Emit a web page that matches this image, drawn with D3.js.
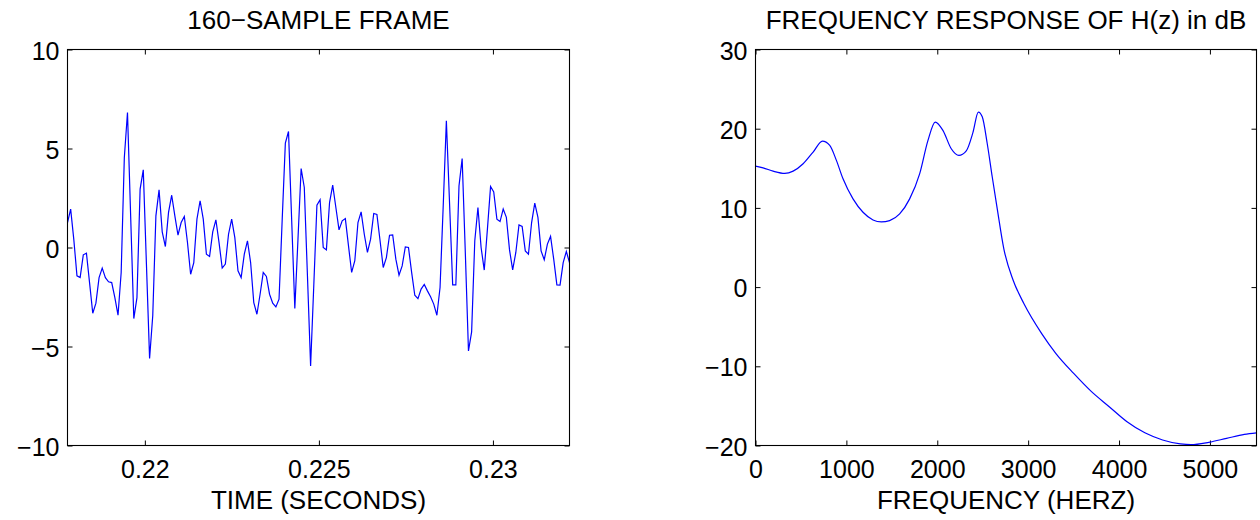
<!DOCTYPE html>
<html>
<head>
<meta charset="utf-8">
<script src="https://cdn.jsdelivr.net/npm/d3@7"></script>
<style>
  html, body { margin: 0; padding: 0; background: #fff; }
  svg { display: block; }
  text { font-family: "Liberation Sans", Arial, Helvetica, sans-serif; fill: #000; }
</style>
</head>
<body>
<svg id="chart" width="1260" height="520"></svg>
<script>
// ---- speech frame: 160 samples at 11025 Hz, starting at sample 2401 ----
const sampleRate = 11025;
const frameStart = 2401;
const frameSamples = [
  1.26, 1.94, 0.40, -1.43, -1.52, -0.37, -0.29, -1.80, -3.32, -2.81,
  -1.52, -1.04, -1.52, -1.73, -1.77, -2.53, -3.42, -1.26, 4.55, 6.82,
  1.60, -3.59, -2.53, 2.95, 3.92, -0.84, -5.60, -3.45, 1.60, 2.91,
  0.79, 0.05, 1.77, 2.64, 1.60, 0.62, 1.26, 1.57, 0.25, -1.35,
  -0.76, 1.43, 2.36, 1.43, -0.34, -0.45, 0.79, 1.40, 0.25, -1.04,
  -0.84, 0.67, 1.43, 0.50, -1.18, -1.52, -0.34, 0.34, -0.76, -2.78,
  -3.37, -2.36, -1.26, -1.46, -2.36, -2.81, -3.00, -2.61, 1.40, 5.27,
  5.86, 1.40, -3.08, 0.42, 3.99, 3.03, -1.43, -5.98, -1.94, 2.14,
  2.41, 0.00, -0.12, 2.27, 3.15, 2.02, 0.89, 1.35, 1.46, 0.08,
  -1.26, -0.67, 1.26, 1.80, 0.67, -0.25, 0.42, 1.72, 1.67, 0.34,
  -1.01, -0.51, 0.62, 0.64, -0.59, -1.40, -0.93, 0.03, 0.00, -1.26,
  -2.41, -2.58, -2.10, -1.87, -2.19, -2.49, -2.86, -3.42, -2.02, 2.10,
  6.40, 2.27, -1.89, -1.89, 3.11, 4.49, -0.25, -5.22, -4.26, 0.34,
  2.02, 0.00, -1.14, 0.93, 3.08, 2.81, 1.43, 1.31, 1.94, 1.52,
  -0.12, -1.13, -0.25, 1.14, 1.06, -0.17, -0.34, 1.26, 2.24, 1.52,
  -0.17, -0.62, 0.17, 0.56, -0.59, -1.89, -1.90, -0.76, -0.20, -0.76
];
const timeTicks = [0.22, 0.225, 0.23];
const ampTicks = [-10, -5, 0, 5, 10];

// ---- LPC model spectrum |H(f)| in dB ----
const respFreq = [
  0, 84, 194, 322, 414, 524, 634, 736, 817, 890,
  963, 1073, 1183, 1293, 1385, 1476, 1586, 1696, 1806, 1897,
  1978, 2062, 2154, 2238, 2319, 2392, 2452, 2495, 2550, 2605,
  2660, 2733, 2836, 2954, 3149, 3306, 3501, 3697, 3892, 4088,
  4284, 4479, 4675, 4792, 4988, 5183, 5379, 5512.5
];
const respDb = [
  15.27, 15.06, 14.64, 14.35, 14.64, 15.57, 17.05, 18.44, 17.90, 16.00,
  13.67, 11.14, 9.45, 8.48, 8.23, 8.40, 9.24, 11.14, 14.30, 18.50,
  20.84, 19.79, 17.47, 16.62, 17.20, 19.50, 22.10, 21.50, 18.10, 13.90,
  9.87, 4.80, 0.84, -2.10, -5.87, -8.39, -10.90, -13.20, -15.10, -17.00,
  -18.40, -19.30, -19.80, -19.90, -19.60, -19.10, -18.60, -18.40
];
const freqTicks = [0, 1000, 2000, 3000, 4000, 5000];
const dbTicks = [-20, -10, 0, 10, 20, 30];

const svg = d3.select("#chart");
svg.append("rect").attr("width", 1260).attr("height", 520).attr("fill", "#fff");

const plotTop = 49.5, plotBottom = 445.5;
const tickFont = 25, titleFont = 26;
const num = d3.format("");

function panel(opts) {
  const { x, y, xTicks, yTicks, xFmt, title, xLabel } = opts;
  const g = svg.append("g");
  const [x0, x1] = x.range();

  // ticks pointing inward on all four sides
  const gb = g.append("g").attr("transform", `translate(0,${plotBottom})`)
    .call(d3.axisBottom(x).tickValues(xTicks).tickSize(-5).tickPadding(15).tickFormat(xFmt));
  const gt = g.append("g").attr("transform", `translate(0,${plotTop})`)
    .call(d3.axisTop(x).tickValues(xTicks).tickSize(-5).tickFormat(""));
  const gl = g.append("g").attr("transform", `translate(${x0},0)`)
    .call(d3.axisLeft(y).tickValues(yTicks).tickSize(-5).tickPadding(8).tickFormat(d3.format("d")));
  const gr = g.append("g").attr("transform", `translate(${x1},0)`)
    .call(d3.axisRight(y).tickValues(yTicks).tickSize(-5).tickFormat(""));

  [gb, gt, gl, gr].forEach(a => {
    a.attr("font-family", null).attr("font-size", null);
    a.select(".domain").remove();
    a.selectAll(".tick line").attr("stroke", "#000").attr("stroke-width", 1);
    a.selectAll(".tick text").attr("font-size", tickFont);
  });
  gl.selectAll(".tick text").attr("dy", "0.38em");

  // plot box
  g.append("rect")
    .attr("x", x0).attr("y", plotTop)
    .attr("width", x1 - x0).attr("height", plotBottom - plotTop)
    .attr("fill", "none").attr("stroke", "#000").attr("stroke-width", 1.1);

  g.append("text")
    .attr("x", (x0 + x1) / 2).attr("y", 28.5)
    .attr("text-anchor", "middle").attr("font-size", titleFont)
    .text(title);
  g.append("text")
    .attr("x", (x0 + x1) / 2).attr("y", 509)
    .attr("text-anchor", "middle").attr("font-size", titleFont)
    .text(xLabel);
  return g;
}

// ---- left: time-domain frame ----
const times = frameSamples.map((_, i) => (frameStart + i) / sampleRate);
const xT = d3.scaleLinear().domain([times[0], times[times.length - 1]]).range([67.5, 569.5]);
const yA = d3.scaleLinear().domain([-10, 10]).range([plotBottom, plotTop]);

const left = panel({
  x: xT, y: yA, xTicks: timeTicks, yTicks: ampTicks, xFmt: d => num(d),
  title: "160\u2212SAMPLE FRAME", xLabel: "TIME (SECONDS)"
});
left.insert("path", "rect")
  .datum(frameSamples)
  .attr("fill", "none").attr("stroke", "#0000ff").attr("stroke-width", 1.2)
  .attr("d", d3.line().x((d, i) => xT(times[i])).y(d => yA(d)));

// ---- right: frequency response ----
const xF = d3.scaleLinear().domain([0, sampleRate / 2]).range([755.5, 1256.5]);
const yD = d3.scaleLinear().domain([-20, 30]).range([plotBottom, plotTop]);

const right = panel({
  x: xF, y: yD, xTicks: freqTicks, yTicks: dbTicks, xFmt: d3.format("d"),
  title: "FREQUENCY RESPONSE OF H(z) in dB", xLabel: "FREQUENCY (HERZ)"
});
right.insert("path", "rect")
  .datum(respDb)
  .attr("fill", "none").attr("stroke", "#0000ff").attr("stroke-width", 1.2)
  .attr("d", d3.line().curve(d3.curveMonotoneX).x((d, i) => xF(respFreq[i])).y(d => yD(d)));
</script>
</body>
</html>
